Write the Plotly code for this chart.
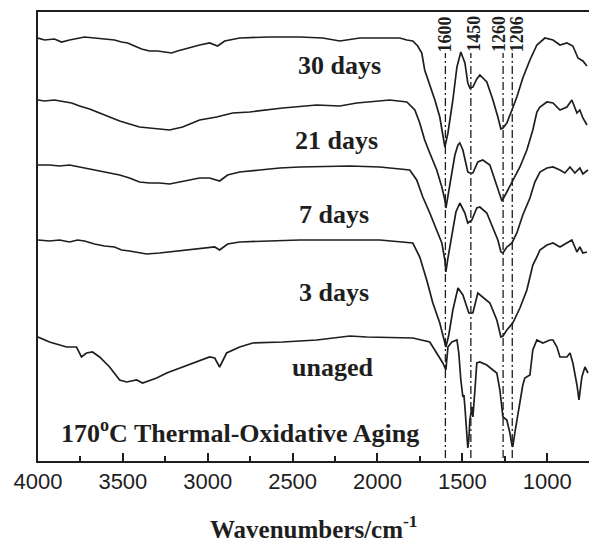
import plotly.graph_objects as go

# ---------------- data ----------------
# wavenumber (cm^-1) and relative transmittance (arbitrary offset units)
wn_30 = [4000, 3962, 3903, 3861, 3814, 3767, 3726, 3667, 3608, 3549, 3508, 3472, 3431, 3390, 3343,
         3295, 3254, 3213, 3178, 3136, 3089, 3048, 2989, 2942, 2900, 2812, 2635, 2458, 2323, 2222,
         2104, 1869, 1827, 1792, 1763, 1739, 1722, 1692, 1662, 1633, 1615, 1603, 1585, 1556, 1532,
         1509, 1485, 1468, 1456, 1438, 1415, 1397, 1356, 1320, 1291, 1273, 1261, 1238, 1208, 1179,
         1144, 1102, 1061, 1014, 966, 925, 884, 849, 819, 790, 766]
t_30 = [423, 421, 422, 419, 421, 423, 424, 423, 422, 421, 419, 418, 415, 412, 410,
        410, 409, 408, 410, 412, 414, 416, 418, 415, 420, 423, 424, 424, 423, 420,
        423, 423, 421, 420, 415, 408, 391, 376, 361, 344, 328, 314, 328, 361, 394,
        409, 398, 378, 373, 374, 382, 386, 379, 361, 344, 332, 333, 338, 351, 364,
        383, 401, 416, 423, 421, 416, 418, 415, 403, 400, 395]

wn_21 = [4000, 3962, 3903, 3844, 3802, 3755, 3696, 3637, 3578, 3519, 3461, 3402, 3343, 3284, 3225,
         3148, 3048, 2948, 2853, 2753, 2558, 2358, 2222, 2122, 1928, 1827, 1780, 1751, 1722, 1692,
         1651, 1621, 1603, 1597, 1585, 1562, 1544, 1526, 1515, 1497, 1480, 1468, 1456, 1438, 1409,
         1380, 1338, 1309, 1279, 1267, 1238, 1203, 1161, 1120, 1085, 1061, 1043, 1002, 966, 925,
         884, 855, 837, 825, 808, 790, 766]
t_21 = [361, 360, 361, 359, 358, 355, 352, 348, 344, 340, 337, 334, 333, 332, 331,
        334, 341, 344, 348, 349, 353, 356, 355, 358, 361, 359, 351, 338, 321, 308,
        291, 274, 261, 253, 266, 291, 306, 316, 318, 311, 299, 289, 288, 288, 299,
        301, 296, 281, 264, 260, 269, 281, 294, 311, 331, 349, 354, 359, 358, 351,
        354, 361, 353, 348, 351, 343, 336]

wn_7 = [4000, 3932, 3873, 3814, 3755, 3696, 3637, 3578, 3519, 3461, 3402, 3343, 3284, 3225, 3166,
        3107, 3048, 2989, 2930, 2883, 2812, 2694, 2576, 2458, 2163, 1986, 1810, 1769, 1733, 1692,
        1651, 1621, 1603, 1597, 1585, 1562, 1538, 1515, 1485, 1468, 1444, 1415, 1397, 1356, 1320,
        1291, 1273, 1261, 1238, 1208, 1179, 1144, 1102, 1073, 1043, 1002, 966, 925, 896, 866,
        837, 808, 790, 760]
t_7 = [296, 296, 295, 296, 294, 292, 290, 288, 286, 283, 279, 278, 278, 277, 279,
       281, 283, 283, 280, 286, 289, 291, 293, 294, 295, 294, 291, 281, 264, 248,
       231, 218, 201, 189, 203, 226, 249, 258, 248, 238, 241, 253, 254, 248, 234,
       221, 209, 208, 214, 218, 228, 246, 263, 279, 289, 293, 294, 291, 288, 294,
       288, 293, 287, 291]

wn_3 = [4000, 3932, 3873, 3814, 3767, 3726, 3667, 3608, 3549, 3508, 3461, 3402, 3360, 3284, 3166,
        3048, 2959, 2930, 2883, 2812, 2635, 2458, 2163, 1986, 1792, 1751, 1710, 1674, 1633, 1609,
        1597, 1580, 1556, 1526, 1497, 1462, 1438, 1409, 1380, 1338, 1297, 1273, 1261, 1238, 1203,
        1161, 1120, 1085, 1061, 1043, 1002, 966, 925, 884, 855, 825, 808, 790, 766]
t_3 = [221, 220, 221, 219, 221, 220, 217, 215, 214, 211, 210, 208, 207, 208, 210,
       212, 214, 211, 217, 219, 220, 221, 221, 221, 218, 204, 181, 158, 138, 121,
       114, 126, 151, 173, 166, 148, 148, 168, 164, 158, 141, 124, 125, 131, 138,
       153, 171, 196, 204, 211, 216, 218, 214, 218, 221, 209, 214, 208, 209]

wn_0 = [4000, 3932, 3832, 3773, 3744, 3714, 3679, 3637, 3578, 3519, 3478, 3419, 3384, 3301, 3242,
        3148, 3048, 2989, 2959, 2930, 2889, 2812, 2735, 2558, 2358, 2222, 2163, 2063, 1869, 1792,
        1692, 1662, 1633, 1615, 1597, 1591, 1585, 1562, 1532, 1521, 1509, 1497, 1491, 1485, 1474,
        1468, 1462, 1456, 1444, 1438, 1426, 1415, 1397, 1356, 1320, 1297, 1279, 1261, 1238, 1220,
        1208, 1203, 1191, 1161, 1144, 1132, 1102, 1085, 1061, 1026, 984, 966, 943, 925, 884,
        866, 849, 825, 813, 796, 778, 760]
t_0 = [124, 119, 114, 114, 104, 108, 109, 104, 94, 81, 79, 81, 78, 83, 88,
       94, 101, 104, 103, 94, 108, 114, 118, 119, 121, 124, 125, 124, 123, 123,
       119, 111, 104, 98, 91, 101, 114, 119, 121, 108, 81, 64, 66, 54, 24,
       13, 21, 41, 54, 44, 71, 98, 99, 96, 91, 88, 71, 44, 41, 28,
       16, 14, 28, 61, 76, 83, 86, 111, 121, 118, 121, 121, 114, 104, 104,
       108, 98, 76, 61, 84, 94, 88]

series_wn = [wn_30, wn_21, wn_7, wn_3, wn_0]
series_t = [t_30, t_21, t_7, t_3, t_0]

labels = ["30 days", "21 days", "7 days", "3 days", "unaged"]
label_wn = [2222, 2240, 2258, 2258, 2264]
label_t = [396, 321, 247, 169, 94]

peak_wn = [1600, 1450, 1260, 1206]
peak_labels = ["1600", "1450", "1260", "1206"]
peak_label_shift = [0, 3, -4, 5]

x_ticks = [4000, 3500, 3000, 2500, 2000, 1500, 1000]

title_text = "<b>170<sup>o</sup>C Thermal-Oxidative Aging</b>"
x_title = "<b>Wavenumbers/cm<sup>-1</sup></b>"

# ---------------- figure ----------------
SERIF = "Liberation Serif, Times New Roman, serif"
SANS = "Liberation Sans, Arial, sans-serif"
INK = "#1e1e1e"

fig = go.Figure()

for wn, t, name in zip(series_wn, series_t, labels):
    fig.add_trace(go.Scatter(x=wn, y=t, mode="lines", name=name,
                             line=dict(color=INK, width=1.7), showlegend=False))

for wn in peak_wn:
    fig.add_trace(go.Scatter(x=[wn, wn], y=[3, 408], mode="lines", showlegend=False,
                             line=dict(color=INK, width=1.3, dash="8px,3px,2px,3px")))

for wn, txt, sh in zip(peak_wn, peak_labels, peak_label_shift):
    fig.add_annotation(x=wn, y=427, text="<b>%s</b>" % txt, textangle=-90, showarrow=False,
                       xanchor="center", yanchor="middle", xshift=sh,
                       font=dict(family=SERIF, size=18, color=INK))

for txt, x, y in zip(labels, label_wn, label_t):
    fig.add_annotation(x=x, y=y, text="<b>%s</b>" % txt, showarrow=False,
                       xanchor="center", yanchor="middle",
                       font=dict(family=SERIF, size=26, color=INK))

fig.add_annotation(x=2812, y=30, text=title_text, showarrow=False,
                   xanchor="center", yanchor="middle",
                   font=dict(family=SERIF, size=26, color=INK))

fig.add_annotation(x=0.5, y=-0.147, xref="paper", yref="paper", text=x_title,
                   showarrow=False, xanchor="center", yanchor="middle",
                   font=dict(family=SERIF, size=25, color=INK))

fig.update_layout(
    width=589, height=541,
    margin=dict(l=38, r=0, t=12, b=80),
    plot_bgcolor="white", paper_bgcolor="white",
    xaxis=dict(range=[4000, 754], tickvals=x_ticks, ticks="inside", ticklen=8,
               tickwidth=1.5, tickcolor=INK, showline=True, linecolor=INK, linewidth=2,
               mirror=True, showgrid=False, zeroline=False,
               tickfont=dict(family=SANS, size=22, color=INK),
               minor=dict(dtick=250, ticks="inside", ticklen=5, tickwidth=1.5, tickcolor=INK)),
    yaxis=dict(range=[0, 449], showticklabels=False, ticks="", showline=True,
               linecolor=INK, linewidth=2, showgrid=False, zeroline=False),
)

fig.write_html("out.html")
